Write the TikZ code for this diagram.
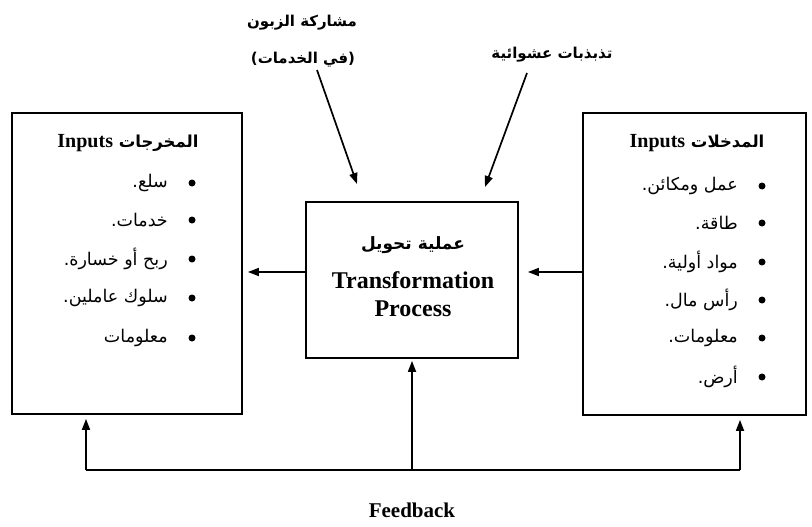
\documentclass[tikz,border=0pt]{standalone}
\usepackage{fontspec}
\setmainfont{Liberation Serif}
\newfontfamily\arabicfont[Script=Arabic]{DejaVu Sans}
\TeXXeTstate=1
\usetikzlibrary{arrows.meta}
\begin{document}
\begin{tikzpicture}[x=1pt,y=-1pt,
  box/.style={draw, line width=1.8pt, inner sep=0pt},
  arr/.style={line width=1.7pt, -{Triangle[length=11pt,width=8pt]}},
  ln/.style={line width=1.7pt},
  item/.style={anchor=east, inner sep=0pt, font=\arabicfont\fontsize{17.5}{20}\selectfont},
  ttl/.style={inner sep=0pt, font=\arabicfont\bfseries\fontsize{15}{18}\selectfont},
  lat/.style={inner sep=0pt, font=\rmfamily\bfseries\fontsize{24}{28}\selectfont},
  dot/.style={circle, fill, inner sep=0pt, minimum size=7pt}]
\useasboundingbox (0,0) rectangle (812,527);
% boxes
\node[box, minimum width=230pt, minimum height=301pt] (out) at (127,263.5) {};
\node[box, minimum width=223pt, minimum height=302pt] (in) at (694.5,264) {};
\node[box, minimum width=212pt, minimum height=156pt] (proc) at (412,280) {};
% titles
\node[ttl, font=\arabicfont\bfseries\fontsize{16.5}{20}\selectfont] (outT) at (128,143) {\beginR المخرجات \beginL{\rmfamily\fontsize{20}{24}\selectfont Inputs}\endL\endR};
\node[ttl, font=\arabicfont\bfseries\fontsize{16.5}{20}\selectfont] (inT) at (697,143) {\beginR المدخلات \beginL{\rmfamily\fontsize{20}{24}\selectfont Inputs}\endL\endR};
% left items
\foreach \y/\t [count=\i] in {183/سلع.,220/خدمات.,259/ربح أو خسارة.,298/سلوك عاملين.,338/معلومات}{
  \node[item] (o\i) at (168,\y) {\beginR \t\endR};
  \node[dot] (od\i) at (192,\y) {};
}
% right items
\foreach \y/\t [count=\i] in {186/عمل ومكائن.,223/طاقة.,262/مواد أولية.,300/رأس مال.,338/معلومات.,377/أرض.}{
  \node[item] (n\i) at (738,\y) {\beginR \t\endR};
  \node[dot] (nd\i) at (762,\y) {};
}
% center text
\node[ttl, font=\arabicfont\bfseries\fontsize{17}{20}\selectfont] (pA) at (413,245) {\beginR عملية تحويل\endR};
\node[lat] (pB) at (413,280) {Transformation};
\node[lat] (pC) at (413,309) {Process};
% top labels
\node[ttl] (c1) at (302,23) {\beginR مشاركة الزبون\endR};
\node[ttl] (c2) at (303,60) {\beginR (في الخدمات)\endR};
\node[ttl] (r1) at (552,55) {\beginR تذبذبات عشوائية\endR};
\coordinate (c2s) at (317,70);
\coordinate (c2e) at (357,184);
\coordinate (r1s) at (527,73);
\coordinate (r1e) at (485,187);
\draw[arr] (c2s) -- (c2e);
\draw[arr] (r1s) -- (r1e);
% horizontal arrows
\draw[arr, shorten >=9pt] (in.west |- 0,272) -- (proc.east |- 0,272);
\draw[arr, shorten >=5pt] (proc.west |- 0,272) -- (out.east |- 0,272);
% feedback
\coordinate (fbL) at (86,470);
\coordinate (fbC) at (412,470);
\coordinate (fbR) at (740,470);
\draw[ln] (fbL) -- (fbR);
\draw[arr, shorten >=2pt] (fbC) -- (proc.south);
\draw[arr, shorten >=4pt] (fbL) -- (out.south -| fbL);
\draw[arr, shorten >=4pt] (fbR) -- (in.south -| fbR);
\node[lat, font=\rmfamily\bfseries\fontsize{21}{25}\selectfont] (fb) at (412,510) {Feedback};
\end{tikzpicture}
\end{document}
